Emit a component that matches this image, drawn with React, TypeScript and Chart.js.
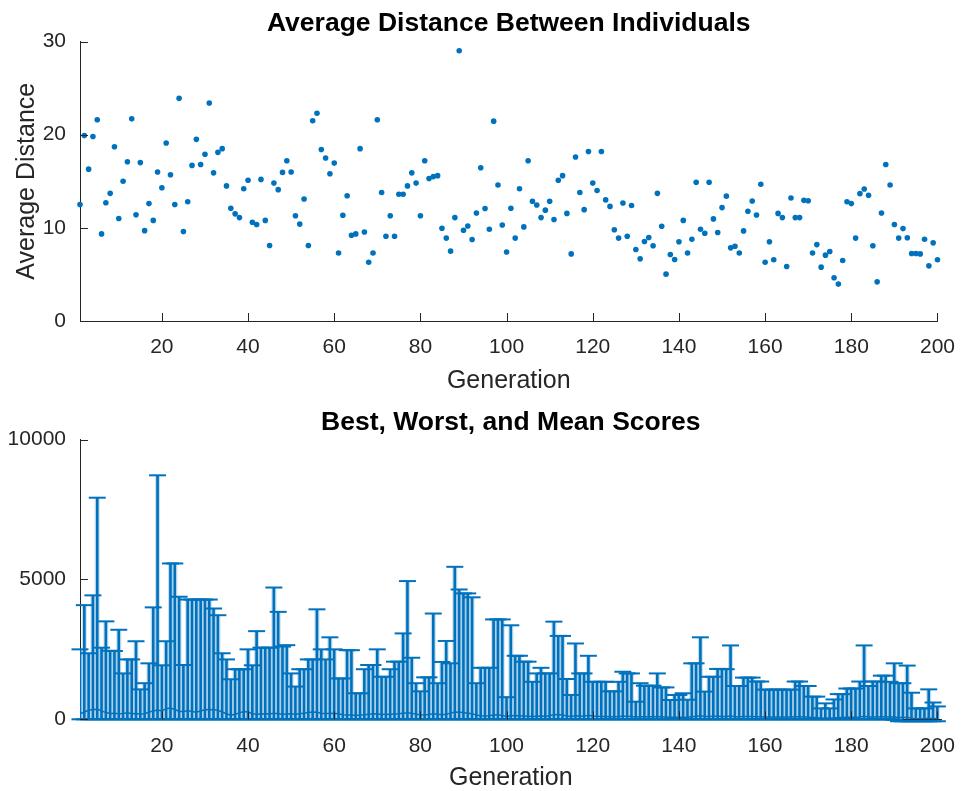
import React, { useEffect, useRef } from "react";
import { Chart, registerables } from "chart.js";

Chart.register(...registerables);

// ---------------- DATA ----------------
const xTickValues = [20, 40, 60, 80, 100, 120, 140, 160, 180, 200];
const distTicks = [0, 10, 20, 30];
const scoreTicks = [0, 5000, 10000];

// Average distance between individuals, generation 1..200
const avgDistance = [
  12.5, 19.9, 16.3, 19.8, 21.6, 9.35, 12.7, 13.7, 18.7, 11.0,
  15.0, 17.1, 21.7, 11.4, 17.0, 9.7, 12.6, 10.8, 16.0, 14.3,
  19.1, 15.7, 12.5, 23.9, 9.6, 12.8, 16.7, 19.5, 16.8, 17.9,
  23.4, 15.9, 18.1, 18.5, 14.5, 12.1, 11.5, 11.1, 14.2, 15.1,
  10.6, 10.35, 15.2, 10.8, 8.1, 14.8, 14.1, 15.95, 17.2, 16.0,
  11.3, 10.4, 13.1, 8.1, 21.5, 22.3, 18.4, 17.5, 15.8, 16.95,
  7.3, 11.35, 13.45, 9.2, 9.35, 18.5, 9.56, 6.3, 7.3, 21.6,
  13.8, 9.1, 11.3, 9.1, 13.6, 13.6, 14.5, 15.9, 14.8, 11.3,
  17.2, 15.3, 15.5, 15.6, 9.96, 8.9, 7.5, 11.1, 29.0, 9.74,
  10.2, 8.75, 11.6, 16.45, 12.07, 9.85, 21.45, 14.6, 10.3, 7.4,
  12.1, 8.9, 14.2, 10.1, 17.2, 12.85, 12.45, 11.1, 11.9, 12.85,
  10.9, 15.1, 15.6, 11.55, 7.2, 17.6, 13.8, 11.95, 18.2, 14.8,
  14.0, 18.2, 13.0, 12.3, 9.8, 8.9, 12.67, 9.1, 12.4, 7.67,
  6.67, 8.53, 8.96, 8.07, 13.7, 10.17, 5.03, 7.14, 6.6, 8.5,
  10.8, 7.3, 8.78, 14.9, 9.85, 9.42, 14.9, 10.96, 9.5, 12.17,
  13.4, 7.85, 8.03, 7.3, 9.67, 11.78, 12.88, 11.38, 14.67, 6.3,
  8.5, 6.57, 11.55, 11.1, 5.85, 13.2, 11.1, 11.1, 12.95, 12.9,
  7.3, 8.2, 5.78, 7.07, 7.46, 4.64, 3.96, 6.5, 12.8, 12.6,
  8.9, 13.67, 14.17, 13.5, 8.07, 4.2, 11.6, 16.8, 14.6, 10.35,
  8.9, 9.92, 8.93, 7.25, 7.25, 7.2, 8.78, 5.92, 8.39, 6.57,
];

// Worst score per generation
const worstScore = [
  2500, 4080, 2360, 4430, 7920, 2560, 3500, 2450, 2440, 3200,
  1640, 2140, 2140, 2790, 1070, 1290, 2000, 4000, 8720, 1930,
  2790, 5570, 5570, 4380, 1940, 4280, 4280, 4280, 4280, 4280,
  4280, 3960, 3720, 2360, 2140, 1430, 1790, 1790, 1790, 2500,
  1930, 3150, 2560, 2560, 2560, 4710, 3840, 2600, 2650, 1640,
  1170, 1790, 1790, 2140, 2140, 3930, 2500, 2140, 2930, 2500,
  1460, 1460, 2470, 2470, 930, 930, 1790, 1940, 1940, 2500,
  1520, 1520, 1790, 2060, 2060, 3070, 4940, 2200, 1290, 1000,
  1500, 1500, 3780, 1290, 2050, 2800, 2000, 5450, 4640, 4500,
  4500, 4360, 1290, 1840, 1840, 1840, 3570, 3570, 3570, 790,
  3360, 2270, 2270, 2060, 2060, 1340, 1640, 1840, 1640, 1640,
  3490, 2980, 2980, 1440, 870, 2710, 1640, 1640, 2270, 1340,
  1340, 1340, 1340, 1000, 1000, 1340, 1700, 1640, 1640, 630,
  1290, 1200, 1200, 1200, 1640, 1140, 1140, 690, 870, 870,
  930, 700, 2000, 2000, 2930, 990, 1520, 1520, 1800, 1800,
  1790, 2640, 1190, 1190, 1490, 1490, 1490, 1350, 1350, 1060,
  1060, 1060, 1060, 1060, 1060, 1060, 1350, 1350, 1190, 1190,
  810, 810, 390, 570, 390, 710, 900, 900, 1100, 1100,
  1100, 1350, 2640, 1190, 1350, 1350, 1560, 1560, 1340, 2000,
  1290, 1290, 1920, 950, 390, 390, 390, 1070, 600, 460,
];

// Mean score per generation
const meanScore = [
  200, 260, 320, 350, 360, 300, 240, 210, 220, 200,
  210, 230, 200, 210, 190, 200, 250, 300, 330, 300,
  380, 400, 350, 290, 270, 310, 280, 250, 300, 340,
  350, 340, 320, 260, 200, 150, 180, 230, 280, 260,
  200, 180, 190, 200, 190, 220, 200, 180, 190, 200,
  180, 200, 220, 240, 260, 250, 220, 200, 220, 210,
  200, 160, 150, 150, 140, 150, 160, 180, 200, 190,
  180, 170, 180, 190, 200, 220, 230, 220, 180, 160,
  150, 170, 200, 180, 160, 180, 220, 260, 250, 240,
  220, 200, 150, 130, 120, 130, 150, 160, 140, 100,
  130, 140, 130, 120, 110, 100, 110, 120, 110, 130,
  160, 170, 150, 120, 100, 130, 120, 110, 140, 120,
  110, 100, 100, 90, 90, 100, 110, 110, 100, 80,
  90, 90, 90, 90, 100, 90, 80, 70, 70, 70,
  70, 70, 90, 110, 130, 100, 100, 110, 110, 100,
  100, 120, 90, 90, 100, 100, 100, 90, 90, 80,
  80, 80, 80, 80, 80, 80, 90, 90, 80, 80,
  60, 60, 40, 50, 40, 50, 60, 60, 70, 70,
  70, 80, 110, 80, 80, 80, 90, 90, 80, 90,
  60, 60, 70, 40, 20, 20, 20, 40, 30, 20,
];

// Best score per generation
const bestScore = [
  0, 0, 0, 0, 0, 0, 0, 0, 0, 0,
  0, 0, 0, 0, 0, 0, 0, 0, 0, 0,
  0, 0, 0, 0, 0, 0, 0, 0, 0, 0,
  0, 0, 0, 0, 0, 0, 0, 0, 0, 0,
  0, 0, 0, 0, 0, 0, 0, 0, 0, 0,
  0, 0, 0, 0, 0, 0, 0, 0, 0, 0,
  0, 0, 0, 0, 0, 0, 0, 0, 0, 0,
  0, 0, 0, 0, 0, 0, 0, 0, 0, 0,
  0, 0, 0, 0, 0, 0, 0, 0, 0, 0,
  0, 0, 0, 0, 0, 0, 0, 0, 0, 0,
  0, 0, 0, 0, 0, 0, 0, 0, 0, 0,
  0, 0, 0, 0, 0, 0, 0, 0, 0, 0,
  0, 0, 0, 0, 0, 0, 0, 0, 0, 0,
  0, 0, 0, 0, 0, 0, 0, 0, 0, 0,
  0, 0, 0, 0, 0, 0, 0, 0, 0, 0,
  0, 0, 0, 0, 0, 0, 0, 0, 0, 0,
  0, 0, 0, 0, 0, 0, 0, 0, 0, 0,
  0, 0, 0, 0, 0, 0, 0, 0, 0, 0,
  0, 0, 0, 0, 0, 0, 0, 0, 0, -20,
  -70, -70, -70, -70, -70, -70, -70, -70, -70, -70,
];

// ---------------- STYLE ----------------
const FONT = "'Liberation Sans', Arial, Helvetica, sans-serif";
const BLUE = "#0072BD";
const BLUE_SOFT = "rgba(0,114,189,0.22)";
const AXIS = "#262626";
const TICK_FONT = { family: FONT, size: 21 };
const LABEL_FONT = { family: FONT, size: 25, lineHeight: 1 };
const TITLE_FONT = { family: FONT, size: 26.5, weight: "bold" as const, lineHeight: 1 };

const inwardTicks = {
  id: "inwardTicks",
  afterDatasetsDraw(chart: any) {
    const { ctx, chartArea, scales } = chart;
    const xs = scales.x;
    const ys = scales.y;
    ctx.save();
    ctx.strokeStyle = AXIS;
    ctx.lineWidth = 1;
    ctx.beginPath();
    xs.ticks.forEach((t: any) => {
      const px = Math.round(xs.getPixelForValue(t.value)) + 0.5;
      ctx.moveTo(px, chartArea.bottom);
      ctx.lineTo(px, chartArea.bottom - 8);
    });
    ys.ticks.forEach((t: any) => {
      const py = Math.round(ys.getPixelForValue(t.value)) + 0.5;
      ctx.moveTo(chartArea.left, py);
      ctx.lineTo(chartArea.left + 8, py);
    });
    ctx.stroke();
    ctx.restore();
  },
};

function fixedTicks(values: number[]) {
  return (scale: any) => {
    scale.ticks = values.map((v) => ({ value: v }));
  };
}

function TopChart() {
  const ref = useRef<HTMLCanvasElement>(null);
  useEffect(() => {
    const chart = new Chart(ref.current!, {
      type: "scatter",
      data: {
        datasets: [
          {
            data: avgDistance.map((v, i) => ({ x: i + 1, y: v })),
            backgroundColor: BLUE,
            borderWidth: 0,
            pointRadius: 2.8,
            clip: false as any,
          },
        ],
      },
      options: {
        responsive: false,
        animation: false,
        events: [],
        layout: { padding: { left: 0, right: 22, top: 0, bottom: 0 } },
        plugins: {
          legend: { display: false },
          tooltip: { enabled: false },
          title: {
            display: true,
            fullSize: false,
            text: "Average Distance Between Individuals",
            color: "#000",
            font: TITLE_FONT,
            padding: { top: 10, bottom: 5 },
          },
        },
        scales: {
          x: {
            type: "linear",
            min: 1,
            max: 200,
            afterBuildTicks: fixedTicks(xTickValues),
            afterFit: (s: any) => {
              s.height = 74;
            },
            grid: { display: false, drawTicks: false },
            border: { display: true, color: AXIS, width: 1 },
            ticks: { color: AXIS, font: TICK_FONT, padding: 14, maxRotation: 0, autoSkip: false },
            title: {
              display: true,
              text: "Generation",
              color: AXIS,
              font: LABEL_FONT,
              padding: { top: 0, bottom: 1 },
            },
          },
          y: {
            type: "linear",
            min: 0,
            max: 30,
            afterBuildTicks: fixedTicks(distTicks),
            afterFit: (s: any) => {
              s.width = 80;
            },
            grid: { display: false, drawTicks: false },
            border: { display: true, color: AXIS, width: 1 },
            ticks: { color: AXIS, font: TICK_FONT, padding: 14 },
            title: {
              display: true,
              text: "Average Distance",
              color: AXIS,
              font: LABEL_FONT,
              padding: { top: 15, bottom: 0 },
            },
          },
        },
      },
      plugins: [inwardTicks],
    } as any);
    return () => chart.destroy();
  }, []);
  return (
    <canvas
      ref={ref}
      width={969}
      height={395}
      style={{ position: "absolute", left: 0, top: 0, width: 969, height: 395, display: "block" }}
    />
  );
}

function BottomChart() {
  const ref = useRef<HTMLCanvasElement>(null);
  useEffect(() => {
    const capStyle = {
      type: "scatter",
      pointStyle: "line",
      pointRadius: 8.5,
      borderColor: BLUE,
      borderWidth: 2,
      backgroundColor: BLUE,
      clip: false,
    };
    const chart = new Chart(ref.current!, {
      type: "bar",
      data: {
        datasets: [
          {
            ...capStyle,
            data: worstScore.map((v, i) => ({ x: i + 1, y: v })),
          },
          {
            ...capStyle,
            data: bestScore.map((v, i) => ({ x: i + 1, y: v })),
          },
          {
            type: "line",
            data: meanScore.map((v, i) => ({ x: i + 1, y: v })),
            borderColor: BLUE,
            borderWidth: 1.5,
            pointRadius: 0,
            tension: 0,
            fill: false,
          },
          {
            type: "bar",
            data: worstScore.map((v, i) => ({ x: i + 1, y: [bestScore[i], v] })),
            backgroundColor: BLUE,
            borderWidth: 0,
            barThickness: 2,
            grouped: false,
          },
          {
            type: "bar",
            data: worstScore.map((v, i) => ({ x: i + 1, y: [bestScore[i], v] })),
            backgroundColor: BLUE_SOFT,
            borderWidth: 0,
            barThickness: 4.4,
            grouped: false,
          },
        ],
      },
      options: {
        responsive: false,
        animation: false,
        events: [],
        layout: { padding: { left: 0, right: 22, top: 0, bottom: 0 } },
        plugins: {
          legend: { display: false },
          tooltip: { enabled: false },
          title: {
            display: true,
            fullSize: false,
            text: "Best, Worst, and Mean Scores",
            color: "#000",
            font: TITLE_FONT,
            padding: { top: 14, bottom: 4 },
          },
        },
        scales: {
          x: {
            type: "linear",
            offset: false,
            min: 1,
            max: 201,
            afterBuildTicks: fixedTicks(xTickValues),
            afterFit: (s: any) => {
              s.height = 71.7;
            },
            grid: { display: false, drawTicks: false },
            border: { display: true, color: AXIS, width: 1 },
            ticks: { color: AXIS, font: TICK_FONT, padding: 14, maxRotation: 0, autoSkip: false },
            title: {
              display: true,
              text: "Generation",
              color: AXIS,
              font: LABEL_FONT,
              padding: { top: 0, bottom: 0 },
            },
          },
          y: {
            type: "linear",
            min: 0,
            max: 10000,
            afterBuildTicks: fixedTicks(scoreTicks),
            afterFit: (s: any) => {
              s.width = 80;
            },
            grid: { display: false, drawTicks: false },
            border: { display: true, color: AXIS, width: 1 },
            ticks: { color: AXIS, font: TICK_FONT, padding: 14, callback: (v: any) => String(v) },
          },
        },
      },
      plugins: [inwardTicks],
    } as any);
    return () => chart.destroy();
  }, []);
  return (
    <canvas
      ref={ref}
      width={969}
      height={396}
      style={{ position: "absolute", left: 0, top: 395, width: 969, height: 396, display: "block" }}
    />
  );
}

export default function App() {
  return (
    <div
      style={{
        position: "absolute",
        left: 0,
        top: 0,
        width: 969,
        height: 791,
        overflow: "hidden",
        background: "#ffffff",
      }}
    >
      <TopChart />
      <BottomChart />
    </div>
  );
}
